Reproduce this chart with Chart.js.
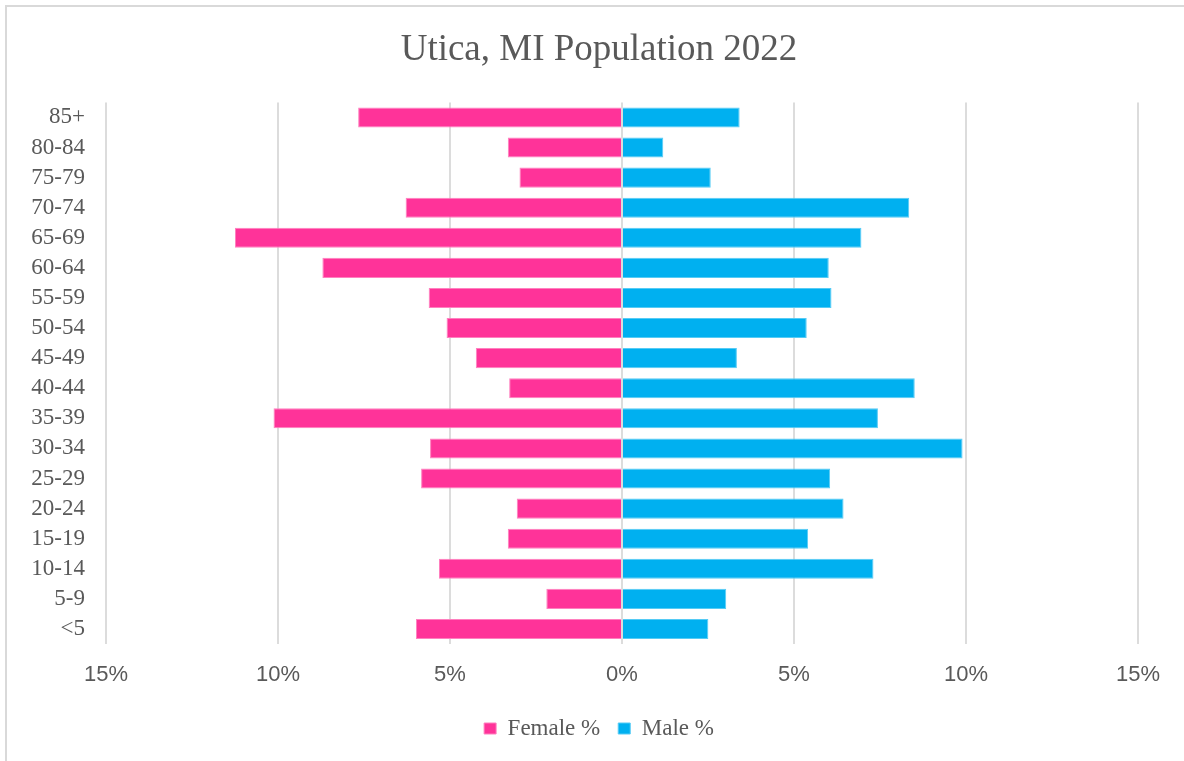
<!DOCTYPE html>
<html>
<head>
<meta charset="utf-8">
<title>Utica, MI Population 2022</title>
<script src="https://cdn.jsdelivr.net/npm/chart.js@4"></script>
<style>
  body { margin: 0; background: #fff; overflow: hidden; }
  #frame { position: absolute; left: 5px; top: 5px; width: 1300px; height: 900px; border: 2px solid #d9d9d9; }
  #pyramid { position: absolute; left: 0; top: 0; }
</style>
</head>
<body>
<div id="frame"></div>
<canvas id="pyramid" width="1184" height="761"></canvas>
<script>
const ageGroups = ['85+', '80-84', '75-79', '70-74', '65-69', '60-64', '55-59', '50-54', '45-49',
  '40-44', '35-39', '30-34', '25-29', '20-24', '15-19', '10-14', '5-9', '<5'];
const femalePct = [7.67, 3.32, 2.98, 6.29, 11.25, 8.71, 5.62, 5.10, 4.25,
  3.28, 10.13, 5.58, 5.84, 3.06, 3.32, 5.32, 2.20, 5.99];
const malePct = [3.42, 1.20, 2.58, 8.35, 6.96, 6.01, 6.09, 5.37, 3.34,
  8.51, 7.44, 9.90, 6.05, 6.44, 5.41, 7.31, 3.03, 2.51];
const xTicks = [-15, -10, -5, 0, 5, 10, 15];

var textGray = '#595959';
var gridGray = '#dcdcdc';

// title and legend sit centred on the whole frame, not between the paddings
const centreOnFrame = {
  id: 'centreOnFrame',
  afterLayout(chart) {
    [chart.titleBlock, chart.legend].forEach(b => {
      b.left += 27;
      b.right += 27;
    });
  }
};

new Chart(document.getElementById('pyramid'), {
  type: 'bar',
  data: {
    labels: ageGroups,
    datasets: [{
      label: 'Female %',
      data: femalePct.map(v => -v),   // left side of the pyramid
      backgroundColor: '#ff3399',
      borderColor: '#ff80bf',
      borderWidth: 1
    }, {
      label: 'Male %',
      data: malePct,
      backgroundColor: '#00b0f0',
      borderColor: '#55cbf5',
      borderWidth: 1
    }]
  },
  plugins: [centreOnFrame],
  options: {
    indexAxis: 'y',
    responsive: false,
    animation: false,
    barPercentage: 0.667,
    categoryPercentage: 1,
    layout: { padding: { left: 6, right: 46, top: 0, bottom: 11 } },
    plugins: {
      title: {
        display: true,
        text: 'Utica, MI Population 2022',
        color: textGray,
        font: { family: 'Liberation Serif', size: 37, weight: 'normal' },
        padding: { top: 28, bottom: 30 }
      },
      legend: {
        position: 'bottom',
        labels: {
          color: textGray,
          font: { family: 'Liberation Serif', size: 23 },
          boxWidth: 12,
          boxHeight: 11,
          padding: 18
        }
      },
      tooltip: { enabled: false }
    },
    scales: {
      x: {
        min: -15,
        max: 15,
        afterBuildTicks: axis => { axis.ticks = xTicks.map(v => ({ value: v })); },
        afterFit: axis => { axis.height = 55; },
        border: { display: false },
        grid: { color: gridGray, lineWidth: 2, drawTicks: false },
        ticks: {
          color: textGray,
          padding: 18,
          font: { family: 'Liberation Sans', size: 22 },
          callback: v => Math.abs(v) + '%'
        }
      },
      y: {
        stacked: true,
        afterFit: axis => { axis.width = 100; },
        border: { display: false },
        grid: { display: false, drawTicks: false },
        ticks: {
          color: textGray,
          padding: 21,
          autoSkip: false,
          font: { family: 'Liberation Serif', size: 23 }
        }
      }
    }
  }
});
</script>
</body>
</html>
